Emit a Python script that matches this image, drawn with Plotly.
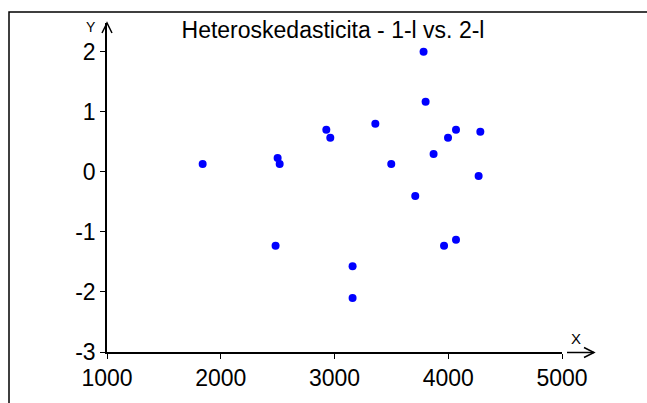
import plotly.graph_objects as go

# Data
x_vals = [3783, 3801, 2928, 2963, 3359, 4068, 3998, 4282, 3871, 1841,
          2500, 2518, 3499, 4267, 3710, 2482, 3963, 4068, 3159, 3159]
y_vals = [2.00, 1.17, 0.70, 0.57, 0.80, 0.70, 0.57, 0.67, 0.30, 0.13,
          0.23, 0.13, 0.13, -0.07, -0.40, -1.23, -1.23, -1.13, -1.57, -2.10]
x_ticks = [1000, 2000, 3000, 4000, 5000]
x_tick_text = ["1000", "2000", "3000", "4000", "5000"]
y_ticks = [-3, -2, -1, 0, 1, 2]
y_tick_text = ["-3", "-2", "-1", "0", "1", "2"]
title_text = "Heteroskedasticita - 1-l vs. 2-l"

W, H = 647, 403
ML, MR, MT, MB = 107, 85, 23, 51
PW, PH = W - ML - MR, H - MT - MB

def px(xp):
    return (xp - ML) / PW

def py(yp):
    return (H - MB - yp) / PH

fig = go.Figure()
fig.add_trace(go.Scatter(
    x=x_vals, y=y_vals, mode="markers",
    marker=dict(color="#0000ff", size=8, line=dict(width=0)),
    hoverinfo="x+y", showlegend=False,
))

font = "Liberation Sans, Arial, sans-serif"
axis_common = dict(
    showgrid=False, zeroline=False, showline=True, linecolor="black",
    linewidth=1.5, ticks="outside", ticklen=5, tickwidth=1, tickcolor="black",
    tickfont=dict(family=font, size=23, color="black"),
)
fig.update_layout(
    width=W, height=H,
    margin=dict(l=ML, r=MR, t=MT, b=MB, pad=0),
    paper_bgcolor="white", plot_bgcolor="white",
    xaxis=dict(range=[1000, 5000], tickvals=x_ticks, ticktext=x_tick_text,
               ticklabelstandoff=0, **axis_common),
    yaxis=dict(range=[-3, 2.48], tickvals=y_ticks, ticktext=y_tick_text,
               ticklabelstandoff=0, **axis_common),
    title=dict(text=title_text, xref="container", yref="container",
               x=333 / W, y=1 - 29.5 / H, xanchor="center", yanchor="middle",
               font=dict(family=font, size=23, color="black")),
)

shapes = []
# border frame
shapes.append(dict(type="path", xref="paper", yref="paper",
                   path=f"M {px(9)},{py(420)} L {px(9)},{py(12)} L {px(670)},{py(12)}",
                   line=dict(color="black", width=1.5)))
# y arrow head
shapes.append(dict(type="path", xref="paper", yref="paper",
                   path=f"M {px(102)},{py(33)} L {px(107)},{py(23)} L {px(112)},{py(33)}",
                   line=dict(color="black", width=1.5)))
# x arrow
shapes.append(dict(type="line", xref="paper", yref="paper",
                   x0=px(567), y0=py(352.5), x1=px(594), y1=py(352.5),
                   line=dict(color="black", width=1.5)))
shapes.append(dict(type="path", xref="paper", yref="paper",
                   path=f"M {px(584)},{py(347.5)} L {px(594)},{py(352.5)} L {px(584)},{py(357.5)}",
                   line=dict(color="black", width=1.5)))
fig.update_layout(shapes=shapes)

fig.add_annotation(text="X", xref="paper", yref="paper", x=px(576), y=py(338),
                   showarrow=False, xanchor="center", yanchor="middle",
                   font=dict(family=font, size=15, color="black"))
fig.add_annotation(text="Y", xref="paper", yref="paper", x=px(91), y=py(27),
                   showarrow=False, xanchor="center", yanchor="middle",
                   font=dict(family=font, size=14, color="black"))

fig.write_html("out.html")
